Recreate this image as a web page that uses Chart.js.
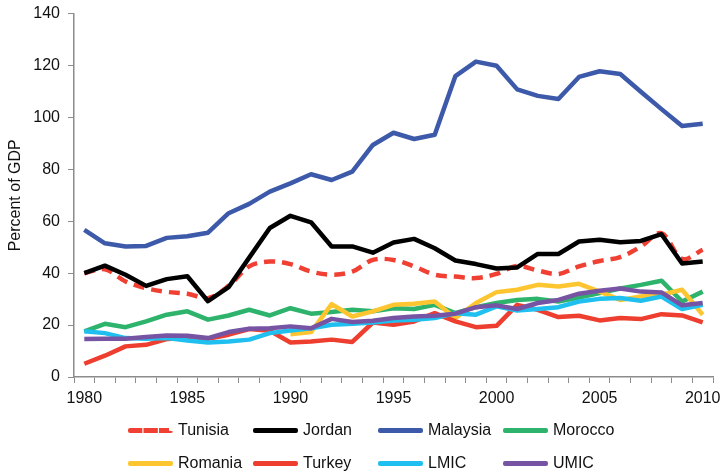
<!DOCTYPE html>
<html>
<head>
<meta charset="utf-8">
<script src="https://cdn.jsdelivr.net/npm/chart.js@4/dist/chart.umd.min.js"></script>
<style>
    html, body { margin: 0; padding: 0; background: #fff; }
    #wrap { position: relative; width: 723px; height: 474px; overflow: hidden; }
    #gdpChart { position: absolute; left: 0; top: -4px; }
    #legend {
        position: absolute; left: 128px; top: 419px;
        display: grid; grid-template-columns: 125px 125px 125px 125px;
        row-gap: 11px;
        font-family: "Liberation Sans", Arial, sans-serif; font-size: 16px; color: #111;
    }
    .item { display: flex; align-items: center; height: 22px; white-space: nowrap; }
    .swatch { width: 45px; height: 0; margin-right: 5px; border-top: 5px solid; border-radius: 2px; }
    .swatch.dashed { border-top-style: dashed; }
</style>
</head>
<body>
<div id="wrap">
    <canvas id="gdpChart" width="723" height="478"></canvas>
    <div id="legend"></div>
</div>
<script>
/* ========================================
   Data
   ======================================== */

const years = [];
for (let y = 1980; y <= 2010; y++) years.push(String(y));

const seriesNames = ['Tunisia', 'Jordan', 'Malaysia', 'Morocco', 'Romania', 'Turkey', 'LMIC', 'UMIC'];

const tunisia = [40.0, 41.5, 36.8, 34.2, 32.8, 32.1, 30.4, 35.1, 42.6, 44.5, 43.5, 40.6, 39.4, 40.6, 45.1, 45.1,
    42.6, 39.4, 38.7, 38.1, 39.7, 42.8, 41.0, 39.7, 42.6, 44.7, 46.2, 50.3, 55.4, 45.5, 49.0];
const jordan = [40.0, 42.9, 39.4, 35.1, 37.7, 38.8, 29.2, 34.6, 46.0, 57.4, 62.1, 59.6, 50.3, 50.3, 47.9, 51.8,
    53.2, 49.6, 44.9, 43.5, 41.8, 42.2, 47.4, 47.4, 52.2, 52.9, 51.9, 52.4, 55.0, 43.7, 44.5];
const malaysia = [56.7, 51.5, 50.3, 50.5, 53.6, 54.2, 55.6, 63.1, 66.7, 71.4, 74.6, 78.1, 75.9, 79.1, 89.4, 94.1,
    91.7, 93.3, 115.9, 121.5, 119.9, 110.8, 108.3, 107.1, 115.6, 117.8, 116.7, 109.9, 103.2, 96.7, 97.6];
const morocco = [17.6, 20.5, 19.2, 21.4, 24.0, 25.3, 22.1, 23.7, 25.9, 23.7, 26.5, 24.4, 25.0, 25.9, 25.3, 26.5,
    26.2, 27.8, 24.6, 26.9, 28.5, 29.7, 30.1, 29.1, 30.6, 32.3, 34.1, 35.5, 37.1, 29.1, 32.9];
const romania = [null, null, null, null, null, null, null, null, null, null, 16.5, 17.3, 28.1, 23.3, 25.3, 27.8,
    28.2, 29.1, 22.7, 28.5, 32.7, 33.6, 35.5, 34.9, 35.9, 32.9, 29.7, 31.0, 31.7, 33.6, 24.0];
const turkey = [5.1, 8.2, 11.8, 12.4, 14.6, 15.0, 14.7, 16.3, 18.5, 17.8, 13.3, 13.7, 14.4, 13.5, 21.0, 20.1,
    21.4, 24.6, 21.4, 19.2, 19.7, 27.8, 25.9, 23.1, 23.6, 21.8, 22.7, 22.3, 24.2, 23.7, 21.0];
const lmic = [17.6, 16.9, 15.0, 14.7, 15.0, 14.1, 13.3, 13.7, 14.4, 16.9, 17.9, 18.8, 20.1, 20.5, 21.0, 21.8,
    22.1, 22.7, 24.6, 24.0, 27.2, 25.6, 26.2, 26.9, 29.1, 30.1, 30.4, 29.4, 31.0, 26.2, 27.8];
const umic = [14.6, 14.7, 14.7, 15.4, 16.0, 15.9, 15.0, 17.3, 18.6, 18.8, 19.5, 18.8, 22.4, 21.2, 21.7, 22.7,
    23.3, 23.6, 24.4, 26.9, 27.6, 26.2, 28.5, 29.7, 32.1, 33.2, 34.1, 32.9, 32.6, 27.6, 28.5];

const yTicks = [0, 20, 40, 60, 80, 100, 120, 140];

/* ========================================
   Chart
   ======================================== */

const seriesValues = [tunisia, jordan, malaysia, morocco, romania, turkey, lmic, umic];
const seriesColors = ['#ef4033', '#000000', '#3d59a9', '#2eb36d', '#fdc52f', '#ee3e2f', '#1fc0ef', '#7754a3'];

const datasets = seriesNames.map(function (name, i) {
    return {
        label: name,
        data: seriesValues[i],
        borderColor: seriesColors[i],
        backgroundColor: seriesColors[i],
        borderWidth: 4.5,
        borderDash: i === 0 ? [11, 7] : [],
        tension: i === 0 ? 0.35 : 0,
        pointRadius: 0,
        borderJoinStyle: 'round',
        spanGaps: false,
        order: seriesNames.length - i   // later series on top, like the original
    };
});

const axisColor = '#8c8c8c';
const font = { family: '"Liberation Sans", Arial, sans-serif', size: 16 };

new Chart(document.getElementById('gdpChart'), {
    type: 'line',
    data: { labels: years, datasets: datasets },
    options: {
        responsive: false,
        animation: false,
        layout: { padding: { top: 1, right: 10, bottom: 65, left: 0 } },
        plugins: { legend: { display: false }, tooltip: { enabled: false } },
        scales: {
            x: {
                offset: true,
                grid: { offset: true, drawOnChartArea: false, tickLength: 6, color: axisColor },
                border: { color: axisColor, width: 1.5 },
                ticks: {
                    autoSkip: false, maxRotation: 0, color: '#111', font: font, padding: 6,
                    callback: function (v, i) { return (1980 + i) % 5 === 0 ? years[i] : ''; }
                },
                afterFit: function (scale) { scale.height = 32; scale.paddingRight = 0; }
            },
            y: {
                min: 0, max: 140,
                afterBuildTicks: function (scale) { scale.ticks = yTicks.map(function (v) { return { value: v }; }); },
                grid: { drawOnChartArea: false, tickLength: 6, color: axisColor },
                border: { color: axisColor, width: 1.5 },
                ticks: { color: '#111', font: font, padding: 8 },
                title: { display: true, text: 'Percent of GDP', color: '#111', font: font, padding: { top: 6, bottom: 2 } },
                afterFit: function (scale) { scale.width = 74; }
            }
        }
    }
});

/* ========================================
   Legend (fixed 4-column grid)
   ======================================== */

const legend = document.getElementById('legend');
seriesNames.forEach(function (name, i) {
    const item = document.createElement('div');
    item.className = 'item';
    const sw = document.createElement('span');
    sw.className = 'swatch' + (i === 0 ? ' dashed' : '');
    sw.style.borderTopColor = seriesColors[i];
    const txt = document.createElement('span');
    txt.textContent = name;
    item.appendChild(sw);
    item.appendChild(txt);
    legend.appendChild(item);
});
</script>
</body>
</html>
